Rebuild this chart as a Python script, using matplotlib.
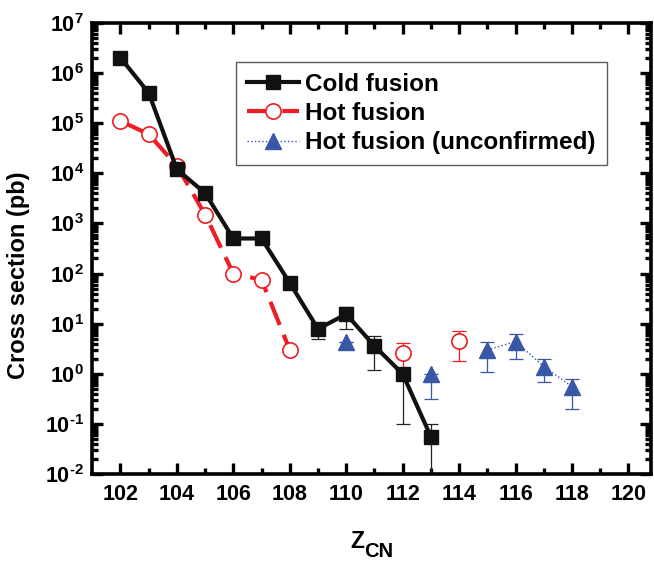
import numpy as np
import matplotlib
matplotlib.use('Agg')
import matplotlib.pyplot as plt
from matplotlib.ticker import LogLocator, FixedLocator, NullFormatter

plt.rcParams['font.family'] = ['Liberation Sans', 'DejaVu Sans']
plt.rcParams['font.weight'] = 'bold'
plt.rcParams['mathtext.fontset'] = 'custom'
plt.rcParams['mathtext.rm'] = 'Liberation Sans:bold'
plt.rcParams['mathtext.bf'] = 'Liberation Sans:bold'

# cold fusion
cold_z = [102, 103, 104, 105, 106, 107, 108, 109, 110, 111, 112, 113]
cold_y = [2.0e6, 4.0e5, 1.2e4, 4.0e3, 500, 500, 65, 7.9, 15.5, 3.6, 1.0, 0.056]
cold_lo = [0, 0, 0, 0, 0, 0, 0, 2.9, 7.7, 2.4, 0.9, 0.0559]
cold_hi = [0, 0, 0, 0, 0, 0, 0, 0, 6.5, 2.2, 0, 0.044]

# hot fusion (connected)
hot_z = [102, 103, 104, 105, 106, 107, 108]
hot_y = [1.1e5, 6.0e4, 1.4e4, 1.5e3, 100, 75, 3.0]

# hot fusion, separate points with errors
hot2_z = [112, 114]
hot2_y = [2.6, 4.5]
hot2_lo = [1.56, 2.7]
hot2_hi = [1.5, 2.7]

# hot fusion (unconfirmed)
unc_z = [110, 113, 115, 116, 117, 118]
unc_y = [4.3, 1.0, 3.0, 4.4, 1.4, 0.56]
unc_lo = [0, 0.69, 1.9, 2.4, 0.7, 0.36]
unc_hi = [0, 0, 1.4, 1.8, 0.6, 0.24]

blue = '#3a56a6'
red = '#ee1c24'

fig = plt.figure(figsize=(6.54, 5.63), dpi=100)
ax = fig.add_axes([0.141, 0.1576, 0.8545, 0.8021])

# error bars
ax.errorbar(cold_z, cold_y, yerr=[cold_lo, cold_hi], fmt='none', ecolor='#222222',
            elinewidth=0.9, capsize=5, capthick=0.9, zorder=2)
ax.errorbar(hot2_z, hot2_y, yerr=[hot2_lo, hot2_hi], fmt='none', ecolor=red,
            elinewidth=0.9, capsize=5, capthick=0.9, zorder=2)
ax.errorbar(unc_z, unc_y, yerr=[unc_lo, unc_hi], fmt='none', ecolor=blue,
            elinewidth=0.9, capsize=5, capthick=0.9, zorder=2)

ax.plot(cold_z, cold_y, '-', color='#111111', lw=3, marker='s', ms=10.5,
        mfc='#111111', mec='#111111', zorder=4, label='Cold fusion')
ax.plot(hot_z, hot_y, color=red, lw=3, dashes=(6, 2.5), marker='o', ms=11,
        mfc='white', mec=red, mew=1.2, zorder=3, label='Hot fusion')
ax.plot(hot2_z, hot2_y, 'o', ms=11, mfc='white', mec=red, mew=1.2, zorder=3)
ax.plot(unc_z[2:], unc_y[2:], ':', color=blue, lw=1, zorder=3)
ax.plot(unc_z, unc_y, '^', ms=12, color=blue, zorder=3)
# legend entry for unconfirmed
ax.plot([], [], ':', color=blue, lw=1, marker='^', ms=12, mfc=blue, mec=blue,
        label='Hot fusion (unconfirmed)')

ax.set_yscale('log')
ax.set_xlim(101, 120.8)
ax.set_ylim(1e-2, 1e7)


def pow_label(v, p):
    e = int(round(np.log10(v)))
    s = str(e).replace('-', '\u2010')
    return r'$\mathbf{10^{%s}}$' % s


ax.xaxis.set_major_locator(FixedLocator(np.arange(102, 121, 2)))
ax.xaxis.set_minor_locator(FixedLocator(np.arange(103, 121, 2)))
ax.yaxis.set_major_locator(LogLocator(base=10, numticks=20))
ax.yaxis.set_minor_locator(LogLocator(base=10, subs=np.arange(2, 10), numticks=20))
ax.yaxis.set_minor_formatter(NullFormatter())
ax.yaxis.set_major_formatter(plt.FuncFormatter(pow_label))

ax.tick_params(which='both', direction='in', top=True, right=True, width=2.4)
ax.tick_params(which='major', length=8, labelsize=15.5)
ax.tick_params(axis='x', which='major', pad=7)
ax.tick_params(axis='y', which='major', pad=6)
ax.tick_params(which='minor', length=4.5)
for lab in ax.get_xticklabels():
    lab.set_fontweight('bold')
for s in ax.spines.values():
    s.set_linewidth(2.6)

# x label: Z with CN subscript at similar size
fig.text(350 / 654, 1 - 548 / 563, 'Z', fontsize=16.5, fontweight='bold',
         ha='left', va='baseline')
fig.text(364 / 654, 1 - 557 / 563, 'CN', fontsize=14.5, fontweight='bold',
         ha='left', va='baseline')

ax.set_ylabel('Cross section (pb)', fontsize=17, fontweight='bold')
ax.yaxis.set_label_coords(-0.112, 0.441)

leg = ax.legend(loc='upper right', bbox_to_anchor=(0.921, 0.913), fontsize=17.5,
                frameon=True, fancybox=False, edgecolor='#333333',
                handlelength=2.15, borderpad=0.45, labelspacing=0.25,
                handletextpad=0.25, borderaxespad=0)
leg.get_frame().set_linewidth(1.0)
for t in leg.get_texts():
    t.set_fontweight('bold')

fig.savefig('out.png', dpi=100)
